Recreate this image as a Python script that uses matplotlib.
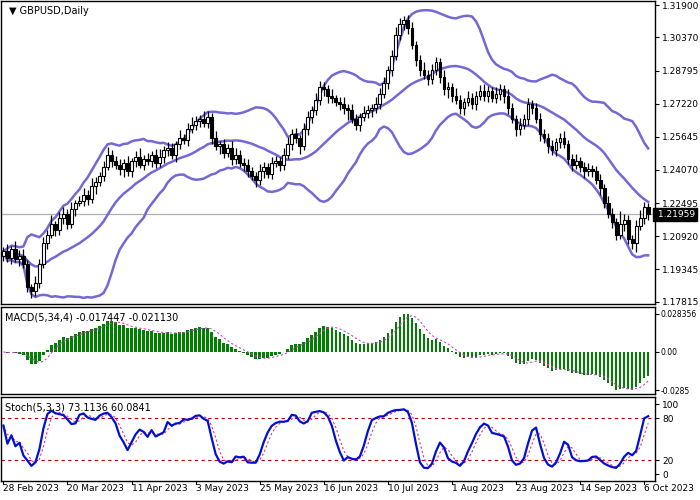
import numpy as np
import matplotlib
matplotlib.use("Agg")
import matplotlib.pyplot as plt
from matplotlib.patches import Rectangle

symbol_title = "GBPUSD,Daily"
closes = [1.2020,1.1990,1.2030,1.1985,1.2000,1.1960,1.1850,1.1830,1.1870,1.1960,
          1.2060,1.2100,1.2150,1.2120,1.2180,1.2200,1.2150,1.2220,1.2250,1.2260,
          1.2290,1.2270,1.2330,1.2350,1.2380,1.2420,1.2480,1.2450,1.2430,1.2410,
          1.2440,1.2400,1.2450,1.2470,1.2430,1.2460,1.2450,1.2480,1.2440,1.2470,
          1.2500,1.2510,1.2480,1.2530,1.2560,1.2550,1.2600,1.2620,1.2640,1.2650,
          1.2630,1.2660,1.2560,1.2520,1.2530,1.2490,1.2510,1.2460,1.2480,1.2440,
          1.2430,1.2400,1.2380,1.2360,1.2400,1.2420,1.2390,1.2440,1.2450,1.2430,
          1.2480,1.2530,1.2580,1.2560,1.2520,1.2600,1.2660,1.2690,1.2740,1.2800,
          1.2790,1.2760,1.2750,1.2730,1.2720,1.2700,1.2690,1.2650,1.2620,1.2660,
          1.2680,1.2690,1.2700,1.2720,1.2770,1.2820,1.2880,1.2950,1.3050,1.3100,
          1.3120,1.3080,1.3000,1.2930,1.2880,1.2860,1.2840,1.2880,1.2920,1.2850,
          1.2790,1.2800,1.2760,1.2740,1.2700,1.2730,1.2750,1.2720,1.2760,1.2780,
          1.2760,1.2780,1.2750,1.2770,1.2790,1.2760,1.2700,1.2650,1.2600,1.2620,
          1.2650,1.2720,1.2700,1.2650,1.2580,1.2560,1.2520,1.2500,1.2540,1.2560,
          1.2530,1.2460,1.2430,1.2450,1.2420,1.2400,1.2410,1.2400,1.2360,1.2320,
          1.2250,1.2200,1.2160,1.2100,1.2150,1.2170,1.2080,1.2060,1.2140,1.2180,
          1.2230,1.2196]
first_open = 1.2000
upper_wick_pips = [20,35,15,40,25,30,20,15,35,25, 30,20,45,15,25,30,20,35,15,25,
                   30,20,40,25,15,30,35,20,25,30, 20,35,15,25,40,20,30,15,25,35,
                   20,30,25,15,35,20,30,40,25,20, 35,25,20,30,15,25,20,35,30,20,
                   25,30,20,15,35,25,20,30,25,20, 30,35,20,25,15,30,25,20,35,30,
                   25,20,30,15,25,35,20,30,25,20, 30,25,20,35,25,30,20,25,35,30,
                   20,25,30,20,25,40,20,30,25,20, 30,25,20,35,25,20,30,25,20,30,
                   35,25,20,30,25,20,30,25,20,35, 25,30,20,25,30,20,25,30,20,25,
                   30,20,25,35,20,25,30,20,25,30, 20,35,25,20,60,30,25,20,30,35,
                   25,20]
lower_wick_pips = [25,20,30,15,35,20,25,30,20,25, 20,30,15,25,20,30,25,20,30,15,
                   25,30,20,35,20,25,15,30,20,25, 35,20,25,30,15,25,20,30,25,20,
                   30,25,20,35,25,20,30,15,25,30, 20,25,30,20,35,25,20,30,25,20,
                   30,25,20,35,25,30,20,25,20,30, 25,20,30,25,35,20,25,30,20,25,
                   30,35,25,20,30,25,45,20,25,30, 20,25,30,20,25,20,30,25,20,25,
                   30,25,20,30,25,20,30,25,20,30, 25,40,30,20,25,30,20,25,30,20,
                   25,30,20,25,30,35,25,20,30,25, 20,30,25,20,35,25,30,20,25,30,
                   20,25,30,20,25,30,20,25,20,30, 25,20,30,25,20,35,25,30,45,20,
                   30,25]
date_labels = ["28 Feb 2023","20 Mar 2023","11 Apr 2023","3 May 2023","25 May 2023",
               "16 Jun 2023","10 Jul 2023","1 Aug 2023","23 Aug 2023","14 Sep 2023","6 Oct 2023"]
date_positions = [0,16,32,48,64,80,96,112,128,144,160]
price_ticks = [1.31900,1.30370,1.28795,1.27220,1.25645,1.24070,1.22495,1.20920,1.19345,1.17815]
last_price = 1.21959
macd_text = "MACD(5,34,4) -0.017447 -0.021130"
stoch_text = "Stoch(5,3,3) 73.1136 60.0841"

c = np.array(closes)
n = len(c)
o = np.concatenate([[first_open], c[:-1]])
h = np.maximum(o, c) + np.array(upper_wick_pips[:n]) * 1e-4
l = np.minimum(o, c) - np.array(lower_wick_pips[:n]) * 1e-4
x = np.arange(n)

def rolling(a, w, f):
    out = np.full(len(a), np.nan)
    for i in range(len(a)):
        s = a[max(0, i - w + 1):i + 1]
        out[i] = f(s)
    return out

def ema(a, p):
    k = 2 / (p + 1); out = np.empty(len(a)); out[0] = a[0]
    for i in range(1, len(a)):
        out[i] = a[i] * k + out[i - 1] * (1 - k)
    return out

mid = rolling(c, 20, np.mean)
sd = rolling(c, 20, np.std)
up, lo = mid + 2 * sd, mid - 2 * sd
macd = ema(c, 5) - ema(c, 34)
sig = rolling(macd, 4, np.mean)
hh = rolling(h, 5, np.max); ll = rolling(l, 5, np.min)
num = rolling(c - ll, 3, np.sum); den = rolling(hh - ll, 3, np.sum)
k = 100 * num / den
d = rolling(k, 3, np.mean)

W, H = 700, 500
fig = plt.figure(figsize=(7, 5), dpi=100)
def ax_at(top, bot):
    return fig.add_axes([1 / W, 1 - bot / H, 654 / W, (bot - top) / H])
ax1 = ax_at(1, 304); ax2 = ax_at(307, 394); ax3 = ax_at(397, 481)
xl = (-0.6, 162.7)
bbc = "#7467d6"
for ax in (ax1, ax2, ax3):
    ax.set_xlim(*xl)
    ax.yaxis.tick_right()
    ax.tick_params(axis="y", labelsize=6.5, length=3, pad=2)
    ax.tick_params(axis="x", length=0, labelbottom=False)
    for s in ax.spines.values():
        s.set_color("black"); s.set_linewidth(1)

ax1.plot(x, up, color=bbc, lw=1.8); ax1.plot(x, mid, color=bbc, lw=1.8); ax1.plot(x, lo, color=bbc, lw=1.8)
for i in range(n):
    ax1.vlines(x[i], l[i], h[i], color="black", lw=0.9, zorder=3)
    b0, b1 = min(o[i], c[i]), max(o[i], c[i])
    ax1.add_patch(Rectangle((x[i] - 0.35, b0), 0.7, max(b1 - b0, 0.0002),
                            facecolor="white" if c[i] >= o[i] else "black",
                            edgecolor="black", lw=0.8, zorder=4))
ax1.axhline(last_price, color="#b0b0b0", lw=0.9, zorder=1)
ax1.set_ylim(1.1770, 1.3210)
ax1.set_yticks(price_ticks)
ax1.set_yticklabels([f"{t:.5f}" for t in price_ticks])
ax1.text(1.0, last_price, f" {last_price:.5f}", transform=ax1.get_yaxis_transform(),
         fontsize=6.5, color="white", va="center", ha="left",
         bbox=dict(boxstyle="square,pad=0.2", fc="black", ec="black"))
ax1.text(0.012, 0.985, "\u25bc " + symbol_title, transform=ax1.transAxes, fontsize=7, va="top")

ax2.bar(x, macd, width=0.65, color="#008000")
ax2.plot(x, sig, color="#d040d0", lw=0.8, ls=(0, (2, 2)))
mx, mn = np.nanmax(macd), np.nanmin(macd)
ax2.set_ylim(mn * 1.1, mx * 1.18)
ax2.set_yticks([mx, 0, mn])
ax2.set_yticklabels([f"{mx:.6f}", "0.00", f"{mn:.4f}"], fontsize=5.5)
ax2.tick_params(axis="y", pad=1)
ax2.text(0.006, 0.94, macd_text, transform=ax2.transAxes, fontsize=7, va="top")

ax3.axhline(80, color="#c00000", lw=0.8, ls=(0, (3, 3)))
ax3.axhline(20, color="#c00000", lw=0.8, ls=(0, (3, 3)))
ax3.plot(x, d, color="#e03080", lw=0.8, ls=(0, (2, 2)))
ax3.plot(x, k, color="#0010d0", lw=1.6)
ax3.set_ylim(-10, 110)
ax3.set_yticks([100, 80, 20, 0])
ax3.text(0.006, 0.93, stoch_text, transform=ax3.transAxes, fontsize=7, va="top")
for p, lab in zip(date_positions, date_labels):
    ax3.text(p, -0.04, lab, transform=ax3.get_xaxis_transform(), fontsize=6.5,
             va="top", ha="left")
    ax3.plot([p, p], [0, -0.04], transform=ax3.get_xaxis_transform(), color="black", lw=0.8, clip_on=False)

fig.savefig("out.png", dpi=100)
